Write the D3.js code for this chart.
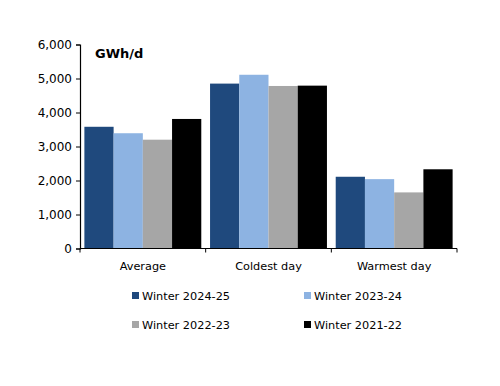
<!DOCTYPE html>
<html><head><meta charset="utf-8">
<script src="https://cdn.jsdelivr.net/npm/d3@7"></script>
<style>body{margin:0;background:#fff}svg{display:block}text{font-family:"DejaVu Sans",sans-serif;fill:#000}</style>
</head><body>
<svg id="c" width="500" height="386"></svg>
<script>
const categories = ["Average", "Coldest day", "Warmest day"];
const seriesNames = ["Winter 2024-25", "Winter 2023-24", "Winter 2022-23", "Winter 2021-22"];
const winter2024_25 = [3580, 4850, 2110];
const winter2023_24 = [3390, 5110, 2040];
const winter2022_23 = [3200, 4780, 1650];
const winter2021_22 = [3810, 4790, 2330];
const yTicks = [0, 1000, 2000, 3000, 4000, 5000, 6000];
const colors = ["#1F497D", "#8DB3E2", "#A6A6A6", "#000000"];
const seriesValues = [winter2024_25, winter2023_24, winter2022_23, winter2021_22];

const svg = d3.select("#c");
const x = d3.scaleBand().domain(categories).range([80, 457]).paddingInner(0).paddingOuter(0);
const x1 = d3.scaleBand().domain(seriesNames).range([0, x.bandwidth()]).paddingOuter(0.15).paddingInner(0);
const y = d3.scaleLinear().domain([0, 6000]).range([248.5, 44.5]);

categories.forEach((c, ci) => {
  seriesNames.forEach((s, si) => {
    svg.append("rect")
      .attr("x", x(c) + x1(s))
      .attr("y", y(seriesValues[si][ci]))
      .attr("width", x1.bandwidth())
      .attr("height", y(0) - y(seriesValues[si][ci]))
      .attr("fill", colors[si]);
  });
});

const yAxis = svg.append("g").attr("transform", "translate(80,0)")
  .call(d3.axisLeft(y).tickValues(yTicks).tickFormat(d3.format(",")).tickSize(4).tickPadding(4));
yAxis.select(".domain").attr("stroke", "#000").attr("stroke-width", 1.2);
yAxis.selectAll("text").style("font-size", "12px");

const xAxis = svg.append("g").attr("transform", "translate(0,248.5)");
xAxis.append("line").attr("x1", 80).attr("x2", 457).attr("stroke", "#000").attr("stroke-width", 1.2);
const bounds = [x(categories[0]), ...categories.map(c => x(c) + x.bandwidth())];
bounds.forEach(b => xAxis.append("line").attr("x1", b).attr("x2", b).attr("y1", 0).attr("y2", 4).attr("stroke", "#000"));
categories.forEach(c => xAxis.append("text").attr("x", x(c) + x.bandwidth() / 2).attr("y", 21)
  .attr("text-anchor", "middle").style("font-size", "11.3px").text(c));

svg.append("text").attr("x", 95).attr("y", 58).style("font-size", "13px").style("font-weight", "bold").text("GWh/d");

const legendPos = [[132, 295], [304, 295], [132, 324], [304, 324]];
seriesNames.forEach((s, i) => {
  const g = svg.append("g").attr("transform", `translate(${legendPos[i][0]},${legendPos[i][1]})`);
  g.append("rect").attr("x", 0).attr("y", -3).attr("width", 7).attr("height", 7).attr("fill", colors[i]);
  g.append("text").attr("x", 10).attr("y", 5).style("font-size", "11.3px").text(s);
});
</script>
</body></html>
